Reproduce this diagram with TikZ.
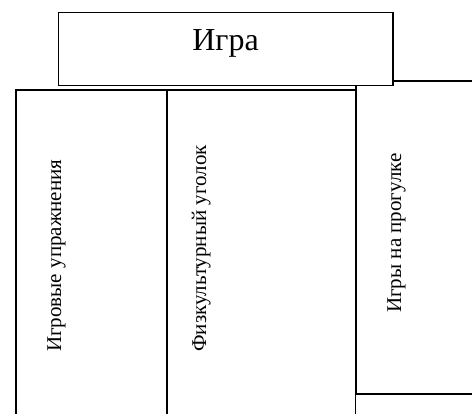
\documentclass[tikz,border=0pt]{standalone}
\usepackage{fontspec}
\setmainfont{Liberation Serif}
\begin{document}
\begin{tikzpicture}[x=1pt,y=-1pt,
  frame/.style={draw=black,line width=1.1pt},
  vlabel/.style={rotate=90,anchor=base west,inner sep=0pt,font=\fontsize{21}{23}\selectfont}]
\useasboundingbox (0,0) rectangle (472,414);
\clip (0,0) rectangle (472,414);
\fill[white] (0,0) rectangle (472,414);
% right box (behind top box)
\draw[frame] (356,81) rectangle (480,394);
% left and middle boxes
\draw[frame] (16,90) rectangle (167,420);
\draw[frame] (167,90) rectangle (355.5,420);
% top box
\draw[frame,fill=white] (58.7,12.7) rectangle (393,85.7);
\node[inner sep=0pt,anchor=base,font=\fontsize{32}{34}\selectfont] (igra) at (225.5,51) {Игра};
\node[vlabel] (t1) at (61,352) {Игровые упражнения};
\node[vlabel] (t2) at (206,352) {Физкультурный уголок};
\node[vlabel] (t3) at (401,313) {Игры на прогулке};
\end{tikzpicture}
\end{document}
